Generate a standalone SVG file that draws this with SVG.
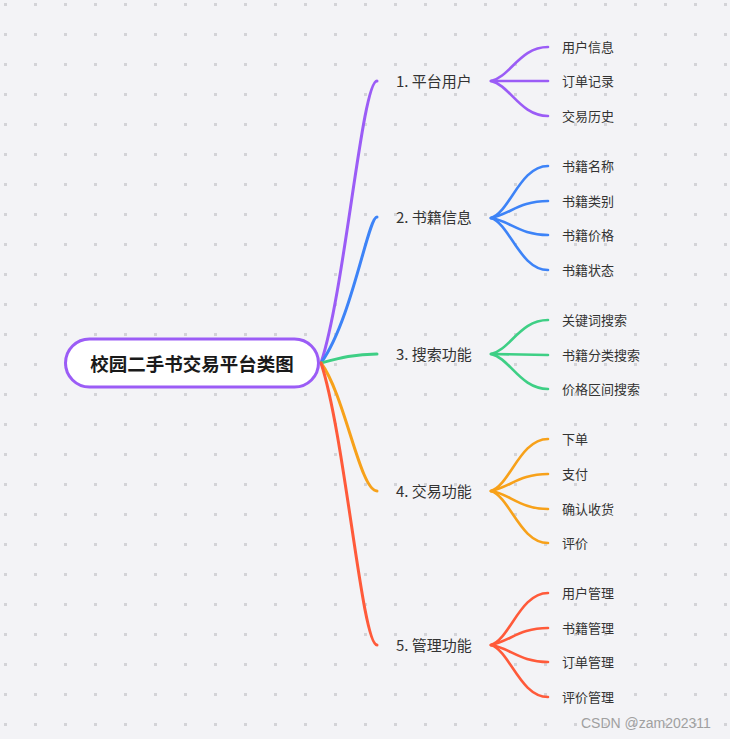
<svg xmlns="http://www.w3.org/2000/svg" width="730" height="739" viewBox="0 0 730 739">
<defs>
<pattern id="dots" x="0" y="0" width="30" height="30" patternUnits="userSpaceOnUse">
<rect x="4" y="3" width="3" height="3" fill="#d3d3d7"/>
</pattern>
<style>
.l1{font-family:"Noto Sans CJK SC","Noto Sans",sans-serif;font-size:15px;fill:#333;dominant-baseline:central}
.l2{font-family:"Noto Sans CJK SC","Noto Sans",sans-serif;font-size:13px;fill:#333;dominant-baseline:central}
.root{font-family:"Noto Sans CJK SC","Noto Sans",sans-serif;font-size:18.5px;font-weight:bold;fill:#1a1a1a;dominant-baseline:central;text-anchor:middle}
.c{fill:none;stroke-width:3;stroke-linecap:round}
.cc{fill:none;stroke-width:2.6;stroke-linecap:round}
.p{stroke:#9b5cf6}.b{stroke:#3d83f7}.g{stroke:#3ecf85}.o{stroke:#f7a11a}.r{stroke:#ff5a3a}
</style>
</defs>
<rect width="730" height="739" fill="#f3f3f6"/>
<rect width="730" height="739" fill="url(#dots)"/>
<g id="connectors">
<path class="c p" d="M321,363 C345,290 362,81 377,81"/>
<path class="c b" d="M321,363 C352,320 368,217 377,217"/>
<path class="c g" d="M321,363 C340,358 355,354 377,354"/>
<path class="c o" d="M321,363 C345,395 360,491 377,491"/>
<path class="c r" d="M321,363 C345,436 362,645 377,645"/>
<path class="cc p" d="M491,81 C510,77 520,47 548,47"/>
<path class="cc p" d="M491,81 L548,81"/>
<path class="cc p" d="M491,81 C510,85 520,116 548,116"/>
<path class="cc b" d="M491,218 C510,212 520,166 548,166"/>
<path class="cc b" d="M491,218 C510,214 520,201 548,201"/>
<path class="cc b" d="M491,218 C510,221 520,235 548,235"/>
<path class="cc b" d="M491,218 C510,224 520,270 548,270"/>
<path class="cc g" d="M491,354 C510,350 520,320 548,320"/>
<path class="cc g" d="M491,354 L548,355"/>
<path class="cc g" d="M491,354 C510,358 520,389 548,389"/>
<path class="cc o" d="M491,491 C510,485 520,439 548,439"/>
<path class="cc o" d="M491,491 C510,487 520,474 548,474"/>
<path class="cc o" d="M491,491 C510,494 520,509 548,509"/>
<path class="cc o" d="M491,491 C510,497 520,543 548,543"/>
<path class="cc r" d="M491,645 C510,639 520,593 548,593"/>
<path class="cc r" d="M491,645 C510,641 520,628 548,628"/>
<path class="cc r" d="M491,645 C510,648 520,662 548,662"/>
<path class="cc r" d="M491,645 C510,651 520,697 548,697"/>
</g>
<g id="root">
<rect x="65.5" y="339" width="253" height="48" rx="24" fill="#ffffff" stroke="#9b5cf6" stroke-width="3"/>
<text class="root" x="192" y="362.5">校园二手书交易平台类图</text>
</g>
<g id="n1"><text class="l1" x="396" y="80">1. 平台用户</text></g>
<g id="n1a"><text class="l2" x="562" y="46">用户信息</text></g>
<g id="n1b"><text class="l2" x="562" y="80">订单记录</text></g>
<g id="n1c"><text class="l2" x="562" y="115">交易历史</text></g>
<g id="n2"><text class="l1" x="396" y="216">2. 书籍信息</text></g>
<g id="n2a"><text class="l2" x="562" y="165">书籍名称</text></g>
<g id="n2b"><text class="l2" x="562" y="200">书籍类别</text></g>
<g id="n2c"><text class="l2" x="562" y="234">书籍价格</text></g>
<g id="n2d"><text class="l2" x="562" y="269">书籍状态</text></g>
<g id="n3"><text class="l1" x="396" y="353">3. 搜索功能</text></g>
<g id="n3a"><text class="l2" x="562" y="319">关键词搜索</text></g>
<g id="n3b"><text class="l2" x="562" y="354">书籍分类搜索</text></g>
<g id="n3c"><text class="l2" x="562" y="388">价格区间搜索</text></g>
<g id="n4"><text class="l1" x="396" y="490">4. 交易功能</text></g>
<g id="n4a"><text class="l2" x="562" y="438">下单</text></g>
<g id="n4b"><text class="l2" x="562" y="473">支付</text></g>
<g id="n4c"><text class="l2" x="562" y="508">确认收货</text></g>
<g id="n4d"><text class="l2" x="562" y="542">评价</text></g>
<g id="n5"><text class="l1" x="396" y="644">5. 管理功能</text></g>
<g id="n5a"><text class="l2" x="562" y="592">用户管理</text></g>
<g id="n5b"><text class="l2" x="562" y="627">书籍管理</text></g>
<g id="n5c"><text class="l2" x="562" y="661">订单管理</text></g>
<g id="n5d"><text class="l2" x="562" y="696">评价管理</text></g>
<text x="581" y="728" font-family="Liberation Sans, sans-serif" font-size="14" fill="#a0a0a0">CSDN @zam202311</text>
</svg>
